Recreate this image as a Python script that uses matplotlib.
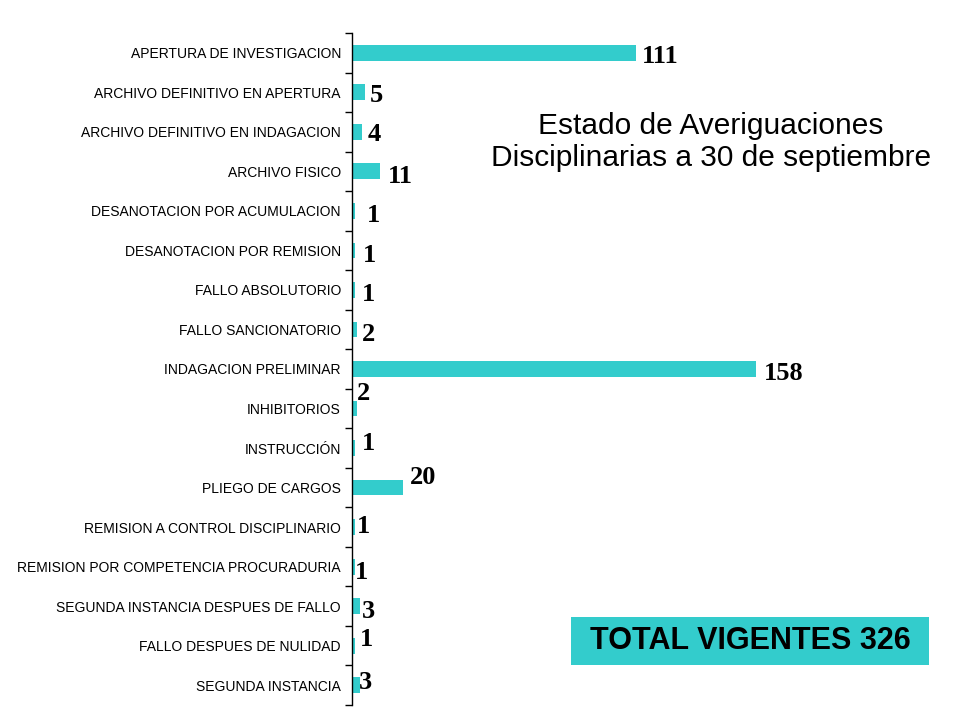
import matplotlib
matplotlib.use("Agg")
import matplotlib.pyplot as plt
from matplotlib.patches import Rectangle

categories = [
    "APERTURA DE INVESTIGACION",
    "ARCHIVO DEFINITIVO EN APERTURA",
    "ARCHIVO DEFINITIVO EN INDAGACION",
    "ARCHIVO FISICO",
    "DESANOTACION POR ACUMULACION",
    "DESANOTACION POR REMISION",
    "FALLO ABSOLUTORIO",
    "FALLO SANCIONATORIO",
    "INDAGACION PRELIMINAR",
    "INHIBITORIOS",
    "INSTRUCCIÓN",
    "PLIEGO DE CARGOS",
    "REMISION A CONTROL DISCIPLINARIO",
    "REMISION POR COMPETENCIA PROCURADURIA",
    "SEGUNDA INSTANCIA DESPUES DE FALLO",
    "FALLO DESPUES DE NULIDAD",
    "SEGUNDA INSTANCIA",
]
values = [111, 5, 4, 11, 1, 1, 1, 2, 158, 2, 1, 20, 1, 1, 3, 1, 3]
title_text = "Estado de Averiguaciones\nDisciplinarias a 30 de septiembre"
total_text = "TOTAL VIGENTES 326"

# label offsets in pixels (dx, dy) relative to bar end / centre
label_offsets = [(6, -4), (5, -3), (5, -3), (8, -5), (12, -5), (8, -5), (7, -5), (5, -5),
                 (8, -4), (0, 15), (7, 5), (7, 10), (2, 1), (0, -6), (2, -5), (5, 6), (-1, 3)]

teal = "#33CCCC"
fig = plt.figure(figsize=(9.6, 7.2), dpi=100)
ax = fig.add_axes([352/960, 1 - 705/720, 1 - 352/960 - 0.02, (705 - 33)/720])

n = len(categories)
ypos = list(range(n))
ax.barh(ypos, values, height=0.4, color=teal, align="center")
ax.set_ylim(n - 0.5, -0.5)
ax.set_xlim(0, (940 - 352) / (403 / 158))

ax.set_yticks(ypos)
ax.set_yticklabels(categories, fontfamily="Liberation Sans", fontsize=10)
ax.tick_params(axis="y", which="major", length=0, pad=8)
ax.set_yticks([i - 0.5 for i in range(n + 1)], minor=True)
ax.tick_params(axis="y", which="minor", length=5, width=1, direction="out", color="black")
ax.set_xticks([])
for s in ["top", "right", "bottom"]:
    ax.spines[s].set_visible(False)
ax.spines["left"].set_linewidth(1)

for i, (v, off) in enumerate(zip(values, label_offsets)):
    ax.annotate(str(v), xy=(v, i), xytext=off, textcoords="offset pixels",
                ha="left", va="center", fontfamily="Liberation Serif",
                fontweight="bold", fontsize=19, color="black")

fig.text(711/960, 1 - 142/720, title_text, ha="center", va="center",
         fontfamily="Liberation Sans", fontsize=21.5, linespacing=1.14, color="black")

fig.patches.append(Rectangle((571/960, 1 - 665/720), (929 - 571)/960, 48/720,
                             transform=fig.transFigure, facecolor=teal, edgecolor="none"))
fig.text(750/960, 1 - 641/720, total_text, ha="center", va="center",
         fontfamily="Liberation Sans", fontweight="bold", fontsize=22, color="black")

fig.savefig("out.png", dpi=100)
